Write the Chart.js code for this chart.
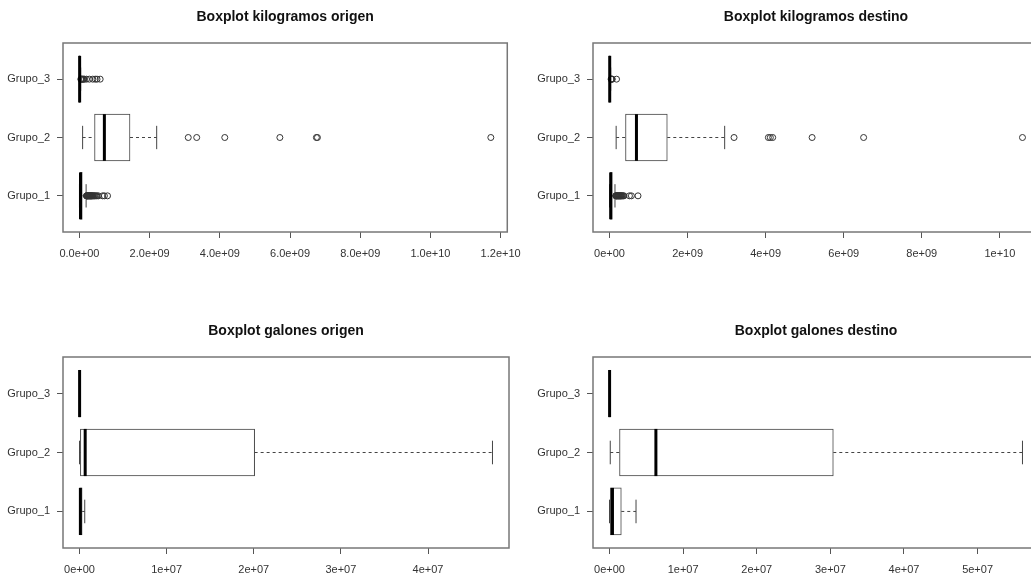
<!DOCTYPE html>
<html>
<head>
<meta charset="utf-8">
<script src="https://cdn.jsdelivr.net/npm/chart.js@4.4.0/dist/chart.umd.min.js"></script>
<style>
  html, body { margin: 0; padding: 0; background: #fff; overflow: hidden; width: 1031px; height: 577px; }
  .panel { position: absolute; width: 530px; height: 314px; }
</style>
</head>
<body>
<div class="panel" style="left:0;top:0"><canvas id="kgOrigen"></canvas></div>
<div class="panel" style="left:530px;top:0"><canvas id="kgDestino"></canvas></div>
<div class="panel" style="left:0;top:314px"><canvas id="galOrigen"></canvas></div>
<div class="panel" style="left:530px;top:314px"><canvas id="galDestino"></canvas></div>
<script>
const grupos = ['Grupo_1', 'Grupo_2', 'Grupo_3'];

// kilogramos origen
const kgOrigenLow  = [0, 0.9e8, 0];
const kgOrigenQ1   = [1e7, 4.3e8, 2e6];
const kgOrigenMed  = [3e7, 7.1e8, 5e6];
const kgOrigenQ3   = [8e7, 1.44e9, 1.5e7];
const kgOrigenHigh = [1.9e8, 2.2e9, 3.5e7];
const kgOrigenOut  = [
  [2.0e8, 2.05e8, 2.1e8, 2.15e8, 2.2e8, 2.3e8, 2.4e8, 2.5e8, 2.6e8, 2.7e8, 2.8e8, 2.9e8, 3.0e8, 3.1e8, 3.2e8, 3.3e8, 3.4e8, 3.5e8, 3.65e8, 3.8e8, 4.0e8, 4.2e8, 4.4e8, 4.7e8, 5.0e8, 5.4e8, 6.6e8, 7.1e8, 8.0e8],
  [3.1e9, 3.34e9, 4.14e9, 5.71e9, 6.75e9, 6.78e9, 1.172e10],
  [4e7, 5e7, 6.5e7, 8e7, 1e8, 1.2e8, 1.45e8, 2.0e8, 2.8e8, 3.8e8, 4.5e8, 5.0e8, 5.9e8]
];
const kgOrigenTicks = [0, 2e9, 4e9, 6e9, 8e9, 1e10, 1.2e10];
const kgOrigenTickLabels = ['0.0e+00', '2.0e+09', '4.0e+09', '6.0e+09', '8.0e+09', '1.0e+10', '1.2e+10'];

// kilogramos destino
const kgDestinoLow  = [0, 1.7e8, 0];
const kgDestinoQ1   = [1e7, 4.1e8, 2e6];
const kgDestinoMed  = [3e7, 6.9e8, 5e6];
const kgDestinoQ3   = [7e7, 1.48e9, 1.5e7];
const kgDestinoHigh = [1.4e8, 2.95e9, 3e7];
const kgDestinoOut  = [
  [1.6e8, 1.65e8, 1.7e8, 1.8e8, 1.9e8, 2.0e8, 2.1e8, 2.2e8, 2.3e8, 2.4e8, 2.5e8, 2.6e8, 2.7e8, 2.8e8, 2.9e8, 3.0e8, 3.15e8, 3.3e8, 3.5e8, 3.7e8, 5.1e8, 5.6e8, 7.3e8],
  [3.19e9, 4.07e9, 4.12e9, 4.18e9, 5.19e9, 6.51e9, 1.058e10],
  [4e7, 5e7, 6e7, 7e7, 1.8e8]
];
const kgDestinoTicks = [0, 2e9, 4e9, 6e9, 8e9, 1e10];
const kgDestinoTickLabels = ['0e+00', '2e+09', '4e+09', '6e+09', '8e+09', '1e+10'];

// galones origen
const galOrigenLow  = [0, 0, 0];
const galOrigenQ1   = [2e4, 1e5, 0];
const galOrigenMed  = [1e5, 6.5e5, 1e4];
const galOrigenQ3   = [3e5, 2.01e7, 2e4];
const galOrigenHigh = [6e5, 4.74e7, 5e4];
const galOrigenOut  = [[], [], []];
const galOrigenTicks = [0, 1e7, 2e7, 3e7, 4e7];
const galOrigenTickLabels = ['0e+00', '1e+07', '2e+07', '3e+07', '4e+07'];

// galones destino
const galDestinoLow  = [0, 1e5, 0];
const galDestinoQ1   = [1e5, 1.36e6, 0];
const galDestinoMed  = [4e5, 6.3e6, 1e4];
const galDestinoQ3   = [1.6e6, 3.04e7, 2e4];
const galDestinoHigh = [3.6e6, 5.61e7, 5e4];
const galDestinoOut  = [[], [], []];
const galDestinoTicks = [0, 1e7, 2e7, 3e7, 4e7, 5e7];
const galDestinoTickLabels = ['0e+00', '1e+07', '2e+07', '3e+07', '4e+07', '5e+07'];

Chart.defaults.font.family = '"Liberation Sans", Arial, sans-serif';
Chart.defaults.font.size = 11;
Chart.defaults.color = '#333';

// bigotes, medianas, marco y titulo al estilo de boxplot() de R
function rBoxPlugin(titulo, low, q1, med, q3, high) {
  return {
    id: 'rbox',
    beforeDatasetsDraw(chart) {
      const { ctx, scales: { x, y } } = chart;
      ctx.save();
      ctx.strokeStyle = '#444';
      ctx.lineWidth = 1;
      grupos.forEach((g, i) => {
        const yc = y.getPixelForValue(i + 1);
        const yTop = y.getPixelForValue(i + 1.2);
        const yBot = y.getPixelForValue(i + 0.8);
        ctx.setLineDash([3, 3]);
        ctx.beginPath();
        ctx.moveTo(x.getPixelForValue(low[i]), yc);
        ctx.lineTo(x.getPixelForValue(q1[i]), yc);
        ctx.moveTo(x.getPixelForValue(q3[i]), yc);
        ctx.lineTo(x.getPixelForValue(high[i]), yc);
        ctx.stroke();
        ctx.setLineDash([]);
        ctx.beginPath();
        [low[i], high[i]].forEach(v => {
          const px = x.getPixelForValue(v);
          ctx.moveTo(px, yTop);
          ctx.lineTo(px, yBot);
        });
        ctx.stroke();
      });
      ctx.restore();
    },
    afterDatasetsDraw(chart) {
      const { ctx, scales: { x, y } } = chart;
      ctx.save();
      ctx.strokeStyle = '#000';
      ctx.lineWidth = 3;
      grupos.forEach((g, i) => {
        const px = x.getPixelForValue(med[i]);
        ctx.beginPath();
        ctx.moveTo(px, y.getPixelForValue(i + 1.4));
        ctx.lineTo(px, y.getPixelForValue(i + 0.6));
        ctx.stroke();
      });
      ctx.restore();
    },
    afterDraw(chart) {
      const { ctx, chartArea: a } = chart;
      ctx.save();
      ctx.strokeStyle = '#777';
      ctx.lineWidth = 1.5;
      ctx.strokeRect(a.left, a.top, a.right - a.left, a.bottom - a.top);
      ctx.fillStyle = '#111';
      ctx.font = 'bold 14px "Liberation Sans", Arial, sans-serif';
      ctx.textAlign = 'center';
      ctx.textBaseline = 'middle';
      ctx.fillText(titulo, (a.left + a.right) / 2, 17);
      ctx.restore();
    }
  };
}

function crearBoxplot(id, titulo, low, q1, med, q3, high, out, ticks, tickLabels, alturaEje) {
  // rango como R: 4% extra a cada lado
  const todos = low.concat(high, out.flat());
  const dMin = Math.min(...todos), dMax = Math.max(...todos);
  const ext = (dMax - dMin) * 0.04;

  const cajas = grupos.map((g, i) => ({ x: [q1[i], q3[i]], y: i + 1 }));
  const atipicos = out.flatMap((vals, i) => vals.map(v => ({ x: v, y: i + 1 })));

  new Chart(document.getElementById(id), {
    type: 'scatter',
    data: {
      datasets: [{
        type: 'bar',
        indexAxis: 'y',
        data: cajas,
        backgroundColor: '#fff',
        borderColor: '#444',
        borderWidth: 1,
        borderSkipped: false,
        barThickness: 47,
        order: 2
      }, {
        type: 'scatter',
        data: atipicos,
        pointStyle: 'circle',
        pointRadius: 3,
        pointBorderWidth: 1,
        pointBorderColor: '#333',
        pointBackgroundColor: 'rgba(0,0,0,0)',
        order: 1
      }]
    },
    plugins: [rBoxPlugin(titulo, low, q1, med, q3, high)],
    options: {
      responsive: true,
      maintainAspectRatio: false,
      animation: false,
      events: [],
      layout: { padding: { top: 43, right: 21, left: 0, bottom: 0 } },
      plugins: { legend: { display: false }, tooltip: { enabled: false }, title: { display: false } },
      scales: {
        x: {
          type: 'linear',
          min: dMin - ext,
          max: dMax + ext,
          offset: false,
          afterBuildTicks: s => { s.ticks = ticks.map(v => ({ value: v })); },
          afterFit: s => { s.height = alturaEje; },
          ticks: {
            autoSkip: false,
            maxRotation: 0,
            padding: 9,
            callback: v => tickLabels[ticks.indexOf(v)]
          },
          grid: { offset: false, drawOnChartArea: false, drawTicks: true, tickLength: 6, color: '#555' },
          border: { display: false }
        },
        y: {
          type: 'linear',
          min: 0.38,
          max: 3.62,
          offset: false,
          afterBuildTicks: s => { s.ticks = [1, 2, 3].map(v => ({ value: v })); },
          afterFit: s => { s.width = 63; },
          ticks: {
            autoSkip: false,
            padding: 7,
            callback: v => grupos[v - 1]
          },
          grid: { offset: false, drawOnChartArea: false, drawTicks: true, tickLength: 6, color: '#555' },
          border: { display: false }
        }
      }
    }
  });
}

crearBoxplot('kgOrigen', 'Boxplot kilogramos origen', kgOrigenLow, kgOrigenQ1, kgOrigenMed, kgOrigenQ3, kgOrigenHigh, kgOrigenOut, kgOrigenTicks, kgOrigenTickLabels, 82);
crearBoxplot('kgDestino', 'Boxplot kilogramos destino', kgDestinoLow, kgDestinoQ1, kgDestinoMed, kgDestinoQ3, kgDestinoHigh, kgDestinoOut, kgDestinoTicks, kgDestinoTickLabels, 82);
crearBoxplot('galOrigen', 'Boxplot galones origen', galOrigenLow, galOrigenQ1, galOrigenMed, galOrigenQ3, galOrigenHigh, galOrigenOut, galOrigenTicks, galOrigenTickLabels, 80);
crearBoxplot('galDestino', 'Boxplot galones destino', galDestinoLow, galDestinoQ1, galDestinoMed, galDestinoQ3, galDestinoHigh, galDestinoOut, galDestinoTicks, galDestinoTickLabels, 80);
</script>
</body>
</html>
